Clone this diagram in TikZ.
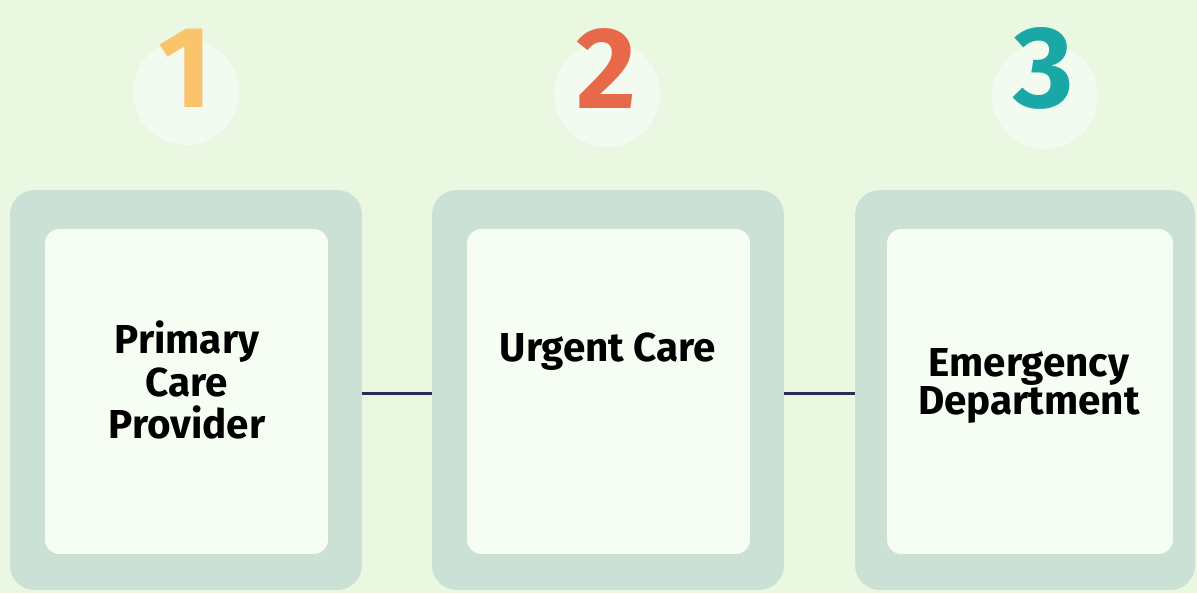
\documentclass[tikz,border=0pt]{standalone}
\usepackage{fontspec}
\setmainfont{Fira Sans}
\newfontfamily\digitfont{Fira Sans}
\definecolor{bgGreen}{HTML}{EAF8E1}
\definecolor{frameGreen}{HTML}{CCE1D6}
\definecolor{paperWhite}{HTML}{F6FDF3}
\definecolor{badgeWhite}{HTML}{F3FAEF}
\definecolor{linkNavy}{HTML}{2B2B55}
\definecolor{oneOrange}{HTML}{F9C46B}
\definecolor{twoRed}{HTML}{E8694A}
\definecolor{threeTeal}{HTML}{1AA8A6}

\begin{document}
\begin{tikzpicture}[x=0.02cm,y=-0.02cm,
    outerbox/.style={fill=frameGreen, rounded corners=14pt, minimum height=8cm, inner sep=0pt},
    innerbox/.style={fill=paperWhite, rounded corners=8pt, minimum height=6.5cm, inner sep=0pt},
    badge/.style={circle, fill=badgeWhite, minimum size=2.12cm, inner sep=0pt},
    digit/.style={font=\digitfont\bfseries\fontsize{66}{66}\selectfont, inner sep=0pt},
    boxtext/.style={font=\bfseries\fontsize{23}{24}\selectfont, align=center, inner sep=0pt}]
  \fill[bgGreen] (0,0) rectangle (1197,593);
  \useasboundingbox (0,0) rectangle (1197,593);
  % badges and numbers
  \foreach \n/\x/\y/\c in {1/186/92/oneOrange, 2/607/94/twoRed, 3/1045/96/threeTeal}{
    \node[badge] (badge\n) at (\x,\y) {};
    \node[digit, text=\c] (num\n) at (\x-1,68) {\n};}
  % frames
  \node[outerbox, minimum width=7.04cm] (box1) at (186,390) {};
  \node[outerbox, minimum width=7.04cm] (box2) at (608,390) {};
  \node[outerbox, minimum width=6.8cm] (box3) at (1025,390) {};
  \node[innerbox, minimum width=5.66cm] (card1) at (186.5,391.5) {};
  \node[innerbox, minimum width=5.66cm] (card2) at (608.5,391.5) {};
  \node[innerbox, minimum width=5.72cm] (card3) at (1030,391.5) {};
  % texts
  \node[boxtext, font=\bfseries\fontsize{23}{24}\selectfont] (txt1) at (187,380) {Primary\\Care\\Provider};
  \node[boxtext] (txt2) at (608,352) {Urgent Care};
  \node[boxtext, font=\bfseries\fontsize{23}{21.5}\selectfont] (txt3) at (1029,386) {Emergency\\Department};
  % links
  \draw[linkNavy, line width=1.8pt] ([yshift=-2pt]box1.east) -- ([yshift=-2pt]box2.west);
  \draw[linkNavy, line width=1.8pt] ([yshift=-2pt]box2.east) -- ([yshift=-2pt]box3.west);
\end{tikzpicture}
\end{document}
